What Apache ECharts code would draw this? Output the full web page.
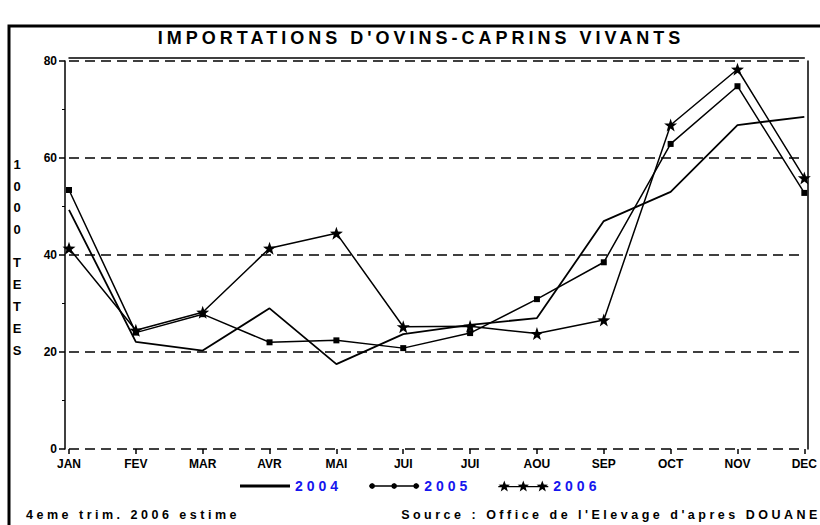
<!DOCTYPE html>
<html>
<head>
<meta charset="utf-8">
<script src="https://cdn.jsdelivr.net/npm/echarts@6/dist/echarts.min.js"></script>
<style>
  html, body { margin: 0; padding: 0; background: #fff; }
  #chart { width: 820px; height: 525px; }
  /* textes espaces comme dans l'original (titre, legende, pied) */
  #chart text[style*="18px"],
  #chart text[style*="14px"] { letter-spacing: 4px; }
  #chart text[style*="12.5px"] { letter-spacing: 3.5px; }
</style>
</head>
<body>
<div id="chart"></div>
<script>
// mois (deux fois JUI dans l'original)
const months = ['JAN', 'FEV', 'MAR', 'AVR', 'MAI', 'JUI', 'JUI', 'AOU', 'SEP', 'OCT', 'NOV', 'DEC']
// milliers de tetes
const values2004 = [49.3, 22.1, 20.3, 29.0, 17.5, 23.7, 25.6, 27.0, 47.0, 53.0, 66.8, 68.5]
const values2005 = [53.4, 24.0, 27.8, 22.0, 22.4, 20.8, 23.9, 30.9, 38.5, 62.9, 74.8, 52.8]
const values2006 = [41.4, 24.5, 28.2, 41.4, 44.5, 25.2, 25.3, 23.8, 26.6, 66.8, 78.3, 55.9]
const yTicks = [0, 20, 40, 60, 80]

const font = 'Liberation Sans'
const legendBlue = '#1515ee'

// etoile a 5 branches
function starPath (cx, cy, R, r) {
  let d = ''
  for (let i = 0; i < 10; i++) {
    const rad = i % 2 === 0 ? R : r
    const a = -Math.PI / 2 + i * Math.PI / 5
    d += (i === 0 ? 'M' : 'L') + (cx + rad * Math.cos(a)).toFixed(2) + ',' + (cy + rad * Math.sin(a)).toFixed(2)
  }
  return d + 'Z'
}
function dotPath (cx, cy, s) {
  return `M${cx},${cy - s}L${cx + s * 0.7},${cy - s * 0.7}L${cx + s},${cy}L${cx + s * 0.7},${cy + s * 0.7}L${cx},${cy + s}L${cx - s * 0.7},${cy + s * 0.7}L${cx - s},${cy}L${cx - s * 0.7},${cy - s * 0.7}Z`
}

const starSymbol = 'path://' + starPath(10, 10, 10, 4)
const icon2004 = 'path://M0,0L50,0L50,3L0,3Z'
const icon2005 = 'path://M0,5.3L50,5.3L50,6.7L0,6.7Z' + dotPath(3, 6, 3) + dotPath(25, 6, 3) + dotPath(47, 6, 3)
const icon2006 = 'path://M0,5.3L50,5.3L50,6.7L0,6.7Z' + starPath(6, 6, 6, 2.5) + starPath(25, 6, 6, 2.5) + starPath(44, 6, 6, 2.5)

const chart = echarts.init(document.getElementById('chart'), null, { renderer: 'svg' })

const option = {
  animation: false,
  backgroundColor: '#fff',
  textStyle: { fontFamily: font },
  graphic: [
    {
      // cadre exterieur
      type: 'rect',
      shape: { x: 9, y: 26, width: 830, height: 520 },
      style: { fill: 'none', stroke: '#000', lineWidth: 3 },
      silent: true
    },
    {
      type: 'text',
      x: 421,
      y: 38,
      style: {
        text: "IMPORTATIONS D'OVINS-CAPRINS VIVANTS",
        font: `bold 18px "${font}"`,
        fill: '#000',
        textAlign: 'center',
        textVerticalAlign: 'middle'
      }
    },
    {
      type: 'text',
      x: 17,
      y: 197,
      style: {
        text: '1\n0\n0\n0',
        font: `bold 13px "${font}"`,
        lineHeight: 21.7,
        fill: '#000',
        textAlign: 'center',
        textVerticalAlign: 'middle'
      }
    },
    {
      type: 'text',
      x: 17,
      y: 306,
      style: {
        text: 'T\nE\nT\nE\nS',
        font: `bold 13px "${font}"`,
        lineHeight: 22,
        fill: '#000',
        textAlign: 'center',
        textVerticalAlign: 'middle'
      }
    },
    {
      type: 'text',
      x: 133,
      y: 515,
      style: {
        text: '4eme trim. 2006 estime',
        font: `bold 12.5px "${font}"`,
        fill: '#000',
        textAlign: 'center',
        textVerticalAlign: 'middle'
      }
    },
    {
      type: 'text',
      x: 611,
      y: 515,
      style: {
        text: "Source : Office de l'Elevage d'apres DOUANE",
        font: `bold 12.5px "${font}"`,
        fill: '#000',
        textAlign: 'center',
        textVerticalAlign: 'middle'
      }
    }
  ],
  legend: {
    left: 235,
    top: 474,
    itemWidth: 50,
    itemHeight: 12,
    itemGap: 43,
    textStyle: { fontFamily: font, fontSize: 14, fontWeight: 'bold', color: legendBlue },
    itemStyle: { borderWidth: 0 },
    data: [
      { name: '2004', icon: icon2004 },
      { name: '2005', icon: icon2005 },
      { name: '2006', icon: icon2006 }
    ]
  },
  grid: {
    left: 69,
    right: 14,
    top: 61,
    bottom: 76
  },
  xAxis: [
    {
      type: 'category',
      data: months,
      boundaryGap: false,
      axisLine: { show: false },
      axisTick: { show: true, alignWithLabel: true, length: 5, lineStyle: { color: '#000', width: 1.5 } },
      axisLabel: { color: '#000', fontSize: 12, fontWeight: 'bold', fontFamily: font, margin: 9, interval: 0 },
      splitLine: { show: false }
    },
    {
      // cadre du haut
      type: 'category',
      data: months,
      position: 'top',
      offset: 3,
      boundaryGap: false,
      axisLine: { show: true, onZero: false, lineStyle: { color: '#000', width: 1.5 } },
      axisTick: { show: false },
      axisLabel: { show: false },
      splitLine: { show: false }
    }
  ],
  yAxis: [
    {
      type: 'value',
      min: 0,
      max: 80,
      interval: 20,
      offset: 4,
      axisLine: { show: true, onZero: false, lineStyle: { color: '#000', width: 1.5 } },
      axisTick: { show: true, length: 6, lineStyle: { color: '#000', width: 1.5 } },
      minorTick: { show: true, splitNumber: 2, length: 3, lineStyle: { color: '#000', width: 1 } },
      axisLabel: {
        color: '#000',
        fontSize: 12,
        fontWeight: 'bold',
        fontFamily: font,
        margin: 8,
        formatter: (val) => yTicks.includes(val) ? String(val) : ''
      },
      splitLine: { show: true, lineStyle: { color: '#000', width: 1.5, type: [10, 6] } }
    },
    {
      // cadre de droite
      type: 'value',
      min: 0,
      max: 80,
      interval: 20,
      position: 'right',
      offset: 3,
      axisLine: { show: true, onZero: false, lineStyle: { color: '#000', width: 1.5 } },
      axisTick: { show: false },
      axisLabel: { show: false },
      splitLine: { show: false }
    }
  ],
  series: [
    {
      name: '2004',
      type: 'line',
      data: values2004,
      symbol: 'none',
      color: '#000',
      lineStyle: { color: '#000', width: 1.8 }
    },
    {
      name: '2005',
      type: 'line',
      data: values2005,
      symbol: 'rect',
      symbolSize: 6,
      color: '#000',
      itemStyle: { color: '#000' },
      lineStyle: { color: '#000', width: 1.5 }
    },
    {
      name: '2006',
      type: 'line',
      data: values2006,
      symbol: starSymbol,
      symbolSize: 13,
      color: '#000',
      itemStyle: { color: '#000' },
      lineStyle: { color: '#000', width: 1.5 }
    }
  ]
}

chart.setOption(option)
</script>
</body>
</html>
